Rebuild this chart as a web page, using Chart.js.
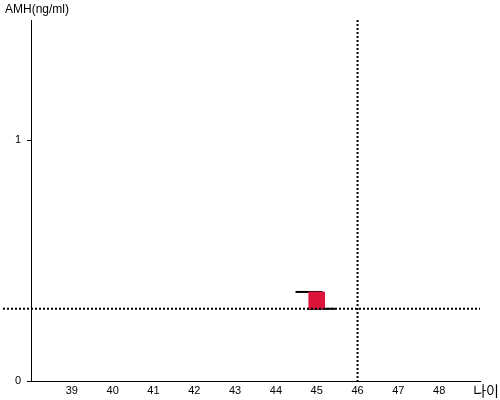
<!DOCTYPE html>
<html>
<head>
<meta charset="utf-8">
<script src="https://cdn.jsdelivr.net/npm/chart.js@4/dist/chart.umd.min.js"></script>
<style>
  body { margin: 0; background: #fff; }
  #wrap { width: 500px; height: 400px; }
</style>
</head>
<body>
<div id="wrap"><canvas id="amhChart" width="500" height="400"></canvas></div>
<script>
// data
const ageTicks = [39, 40, 41, 42, 43, 44, 45, 46, 47, 48];
const amhTicks = [0, 1];
const barAge = [45];
const barRange = [[0.3, 0.37]];
const topMark = [[44.48, 0.37], [45.14, 0.37]];
const bottomMark = [[44.77, 0.3], [45.45, 0.3]];
const refAge = 46;
const refAmh = 0.3;

// dotted reference lines + axis titles
const refLines = {
  id: 'refLines',
  afterDatasetsDraw(chart) {
    const { ctx, chartArea, scales } = chart;
    const x = scales.x.getPixelForValue(refAge);
    const y = scales.y.getPixelForValue(refAmh);
    ctx.save();
    ctx.strokeStyle = '#000';
    ctx.lineWidth = 2;
    ctx.setLineDash([2, 2]);
    ctx.beginPath();
    ctx.moveTo(3, y);
    ctx.lineTo(chartArea.right, y);
    ctx.moveTo(x, chartArea.top);
    ctx.lineTo(x, chartArea.bottom);
    ctx.stroke();
    ctx.setLineDash([]);
    ctx.fillStyle = '#000';
    ctx.font = '12px "Liberation Sans", Arial, sans-serif';
    ctx.textBaseline = 'middle';
    ctx.textAlign = 'left';
    ctx.fillText('AMH(ng/ml)', 5, 10);
    ctx.font = '14px "Noto Sans CJK KR", sans-serif';
    ctx.textAlign = 'right';
    ctx.fillText('나이', 499, 391);
    ctx.restore();
  }
};

const ctx = document.getElementById('amhChart').getContext('2d');
const amhChart = new Chart(ctx, {
  type: 'bar',
  data: {
    datasets: [
      {
        type: 'bar',
        data: barAge.map((a, i) => ({ x: a, y: barRange[i] })),
        backgroundColor: '#dc143c',
        barThickness: 16
      },
      {
        type: 'line',
        data: topMark.map(p => ({ x: p[0], y: p[1] })),
        borderColor: '#000',
        borderWidth: 2,
        pointRadius: 0
      },
      {
        type: 'line',
        data: bottomMark.map(p => ({ x: p[0], y: p[1] })),
        borderColor: '#000',
        borderWidth: 2,
        pointRadius: 0
      }
    ]
  },
  options: {
    responsive: false,
    animation: false,
    layout: { padding: { top: 20, right: 20, left: 0, bottom: 0 } },
    plugins: { legend: { display: false }, tooltip: { enabled: false } },
    scales: {
      x: {
        type: 'linear',
        offset: false,
        min: 38,
        max: 49,
        afterBuildTicks: s => { s.ticks = ageTicks.map(v => ({ value: v })); },
        afterFit: s => { s.height = 19; },
        grid: { display: false, drawTicks: false },
        border: { display: true, color: '#000', width: 1 },
        ticks: { color: '#000', padding: 3, maxRotation: 0, font: { family: '"Liberation Sans", Arial', size: 11 } }
      },
      y: {
        min: 0,
        max: 1.5,
        afterBuildTicks: s => { s.ticks = amhTicks.map(v => ({ value: v })); },
        afterFit: s => { s.width = 31; },
        grid: { drawOnChartArea: false, tickLength: 4, color: '#000' },
        border: { display: true, color: '#000', width: 1 },
        ticks: { color: '#000', padding: 6, font: { family: '"Liberation Sans", Arial', size: 11 } }
      }
    }
  },
  plugins: [refLines]
});
</script>
</body>
</html>
